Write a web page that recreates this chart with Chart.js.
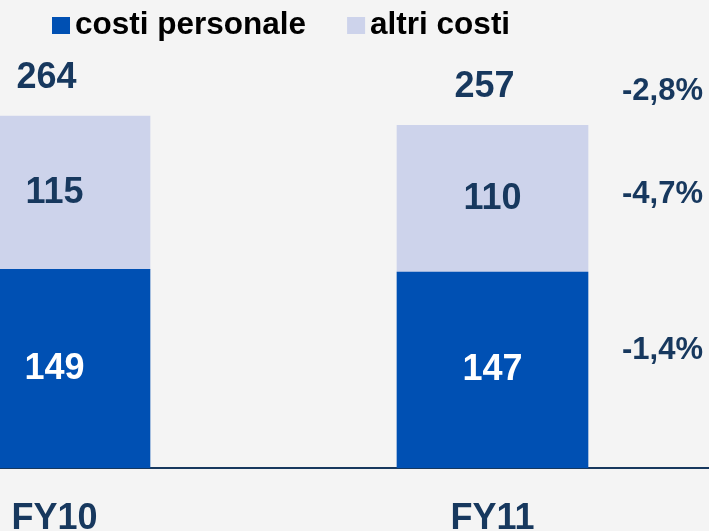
<!DOCTYPE html>
<html>
<head>
<meta charset="utf-8">
<script src="https://cdn.jsdelivr.net/npm/chart.js@4"></script>
<style>
  html, body { margin: 0; padding: 0; background: #f4f4f4; }
  #wrap { width: 709px; height: 531px; }
</style>
</head>
<body>
<div id="wrap"><canvas id="myChart" width="709" height="531"></canvas></div>
<script>
var categorie = ['FY10', 'FY11'];
var costiPersonale = [149, 147];
var altriCosti = [115, 110];
var totali = [264, 257];
// variazione FY11 vs FY10: personale, altri, totale
var variazioni = ['-1,4%', '-4,7%', '-2,8%'];

var FONT = '"Liberation Sans", Arial, sans-serif';
var NAVY = '#17385e';

function punti(valori) {
    var out = [];
    for (let i = 0; i < valori.length; i++) {
        out.push({ x: i, y: valori[i] });
    }
    return out;
}

/* LEGENDA IN ALTO */
const legendaPlugin = {
    id: 'legenda',
    afterDraw(chart) {
        const ctx = chart.ctx;
        ctx.save();
        ctx.font = 'bold 31.5px ' + FONT;
        ctx.textBaseline = 'alphabetic';
        ctx.textAlign = 'left';
        let x = 52;
        chart.data.datasets.forEach(function (ds) {
            ctx.fillStyle = ds.backgroundColor;
            ctx.fillRect(x, 17, 18, 17);
            ctx.fillStyle = '#000';
            ctx.fillText(ds.label, x + 23, 34);
            x += 23 + ctx.measureText(ds.label).width + 41;
        });
        ctx.restore();
    }
};

/* ETICHETTE VALORI */
const etichettePlugin = {
    id: 'etichette',
    afterDatasetsDraw(chart) {
        const ctx = chart.ctx;
        ctx.save();
        ctx.textAlign = 'center';
        ctx.textBaseline = 'middle';
        ctx.font = 'bold 36px ' + FONT;
        chart.data.datasets.forEach(function (ds, d) {
            const meta = chart.getDatasetMeta(d);
            meta.data.forEach(function (bar, i) {
                ctx.fillStyle = d === 0 ? '#fff' : NAVY;
                ctx.fillText(String(ds.data[i].y), bar.x, (bar.y + bar.base) / 2);
            });
        });
        // totali sopra le barre
        const top = chart.getDatasetMeta(1);
        ctx.fillStyle = NAVY;
        top.data.forEach(function (bar, i) {
            ctx.fillText(String(totali[i]), bar.x - 8, bar.y - 38);
        });
        // variazioni a destra
        ctx.font = 'bold 31px ' + FONT;
        ctx.textAlign = 'right';
        const last = categorie.length - 1;
        const b0 = chart.getDatasetMeta(0).data[last];
        const b1 = top.data[last];
        const x = chart.chartArea.right - 6;
        ctx.fillText(variazioni[0], x, (b0.y + b0.base) / 2 - 20);
        ctx.fillText(variazioni[1], x, (b1.y + b1.base) / 2 - 4);
        ctx.fillText(variazioni[2], x, b1.y - 34);
        ctx.restore();
    }
};

const data = {
    datasets: [{
        label: 'costi personale',
        backgroundColor: '#0050b3',
        data: punti(costiPersonale),
    }, {
        label: 'altri costi',
        backgroundColor: '#cdd3eb',
        data: punti(altriCosti),
    }]
};

const config = {
    type: 'bar',
    data: data,
    options: {
        responsive: false,
        animation: false,
        layout: { padding: { top: 68, left: 0, right: 0, bottom: 0 } },
        datasets: {
            bar: { barThickness: 191, borderWidth: 0 }
        },
        plugins: {
            legend: { display: false },
            tooltip: { enabled: false }
        },
        scales: {
            x: {
                type: 'linear',
                stacked: true,
                offset: false,
                bounds: 'data',
                min: -0.1244,
                max: 1.4943,
                grid: { display: false, drawTicks: false, offset: false },
                border: { display: true, color: NAVY, width: 2 },
                afterBuildTicks(scale) {
                    scale.ticks = categorie.map(function (c, i) { return { value: i }; });
                },
                afterFit(scale) {
                    scale.height = 63;
                    scale.paddingLeft = 0;
                    scale.paddingRight = 0;
                },
                ticks: {
                    padding: 29,
                    color: NAVY,
                    font: { family: FONT, size: 36, weight: 'bold' },
                    callback: function (v) { return categorie[v]; }
                }
            },
            y: {
                stacked: true,
                display: false,
                min: 0,
                max: 300
            }
        }
    },
    plugins: [legendaPlugin, etichettePlugin]
};

const myChart = new Chart(document.getElementById('myChart'), config);
</script>
</body>
</html>
